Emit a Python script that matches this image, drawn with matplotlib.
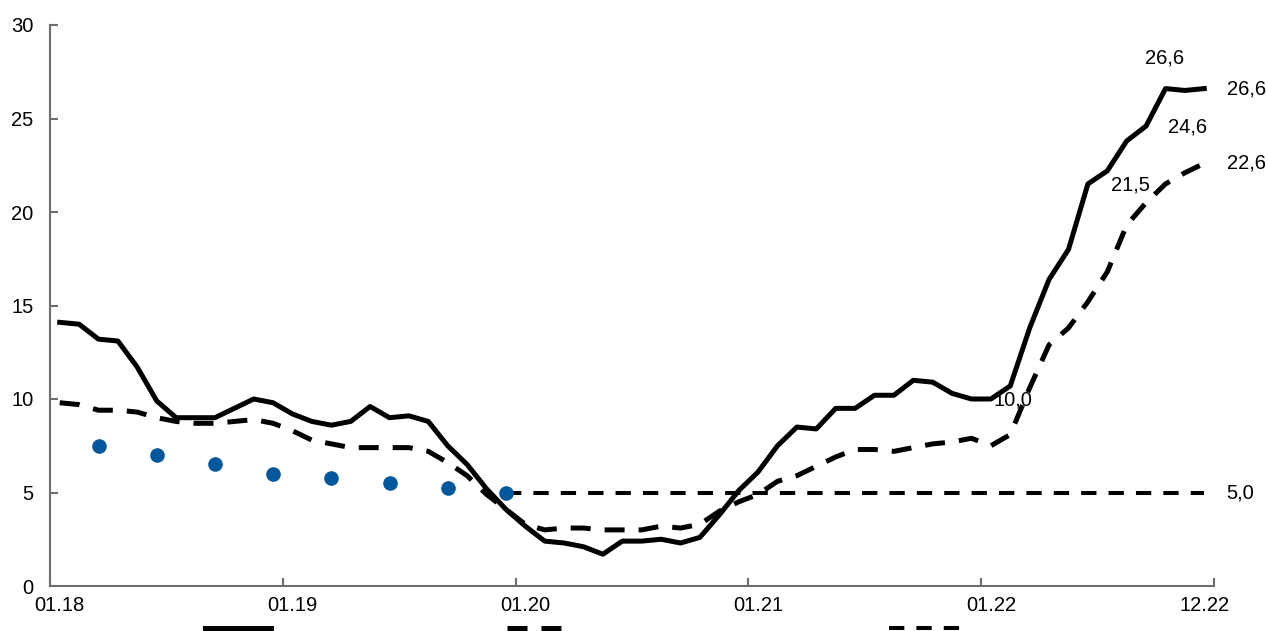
import numpy as np
import matplotlib
matplotlib.use("Agg")
import matplotlib.pyplot as plt

plt.rcParams['font.family'] = ['Liberation Sans', 'DejaVu Sans']

# monthly values 01.18 .. 12.22
solid = [14.1, 14.0, 13.2, 13.1, 11.7, 9.9, 9.0, 9.0, 9.0, 9.5,
         10.0, 9.8, 9.2, 8.8, 8.6, 8.8, 9.6, 9.0, 9.1, 8.8,
         7.5, 6.5, 5.2, 4.1, 3.2, 2.4, 2.3, 2.1, 1.7, 2.4,
         2.4, 2.5, 2.3, 2.6, 3.8, 5.1, 6.1, 7.5, 8.5, 8.4,
         9.5, 9.5, 10.2, 10.2, 11.0, 10.9, 10.3, 10.0, 10.0, 10.7,
         13.8, 16.4, 18.0, 21.5, 22.2, 23.8, 24.6, 26.6, 26.5, 26.6]
dashed = [9.8, 9.7, 9.4, 9.4, 9.3, 9.0, 8.8, 8.7, 8.7, 8.8,
          8.9, 8.7, 8.3, 7.8, 7.6, 7.4, 7.4, 7.4, 7.4, 7.2,
          6.6, 5.9, 4.9, 4.1, 3.3, 3.0, 3.1, 3.1, 3.0, 3.0,
          3.0, 3.2, 3.1, 3.3, 4.0, 4.5, 4.9, 5.6, 5.9, 6.4,
          6.9, 7.3, 7.3, 7.2, 7.4, 7.6, 7.7, 7.9, 7.5, 8.1,
          10.6, 12.9, 13.8, 15.2, 16.8, 19.3, 20.5, 21.5, 22.1, 22.6]
target_months = np.arange(23, 60)
target_level = 5.0
dot_months = [2, 5, 8, 11, 14, 17, 20, 23]
dot_values = [7.5, 7.0, 6.5, 6.0, 5.75, 5.5, 5.25, 5.0]

tick_labels = ['01.18', '01.19', '01.20', '01.21', '01.22', '12.22']
tick_label_months = [0, 12, 24, 36, 48, 59]
boundary_ticks = [0, 12, 24, 36, 48, 60]

# value labels (text, month position, value position)
labels = [("26,6", 57.47, 28.24), ("26,6", 61.68, 26.56), ("24,6", 58.66, 24.55),
          ("22,6", 61.68, 22.6), ("21,5", 55.67, 21.44), ("10,0", 49.66, 9.95),
          ("5,0", 61.34, 4.97)]

xs = np.arange(len(solid)) + 0.5
fs = 14.5

fig = plt.figure(figsize=(12.68, 6.31), dpi=100)
ax = fig.add_axes([50 / 1268, 45 / 631, 1164 / 1268, 561 / 631])

l1, = ax.plot(xs, solid, color='black', lw=3.6, zorder=3)
l2, = ax.plot(xs, dashed, color='black', lw=3.6, dashes=(4, 2.8), zorder=3)
l3, = ax.plot(target_months + 0.5, [target_level] * len(target_months), color='black',
              lw=2.9, dashes=(3.8, 3.0), zorder=2)
ax.plot(np.array(dot_months) + 0.5, dot_values, 'o', color='#00579c', ms=10.5,
        mec='none', zorder=4)

for txt, x, y in labels:
    ax.text(x, y, txt, fontsize=fs, ha='center', va='center', zorder=1)

ax.set_xlim(0, 60)
ax.set_ylim(0, 30)
ax.set_yticks(range(0, 31, 5))
ax.set_xticks(boundary_ticks, minor=True)
ax.set_xticks(np.array(tick_label_months) + 0.5)
ax.set_xticklabels(tick_labels)
ax.tick_params(axis='x', which='major', length=0, pad=7, labelsize=fs)
ax.tick_params(axis='x', which='minor', direction='in', length=6, width=1.5, color='#6d6d6d')
ax.tick_params(axis='y', direction='in', length=6, width=1.5, color='#6d6d6d', pad=12, labelsize=fs)
for s in ['top', 'right']:
    ax.spines[s].set_visible(False)
for s in ['left', 'bottom']:
    ax.spines[s].set_color('#6d6d6d')
    ax.spines[s].set_linewidth(1.5)

# legend handles, cut off at the bottom edge as in the original
for h, x0, hl in [(l1, 205, 3.3), (l2, 507, 2.8), (l3, 889, 3.8)]:
    fig.legend([h], [''], loc='center left', bbox_to_anchor=(x0 / 1268, 1 / 631),
               frameon=False, borderpad=0, borderaxespad=0, handletextpad=0,
               handlelength=hl, fontsize=fs)

fig.savefig("out.png", dpi=100)
